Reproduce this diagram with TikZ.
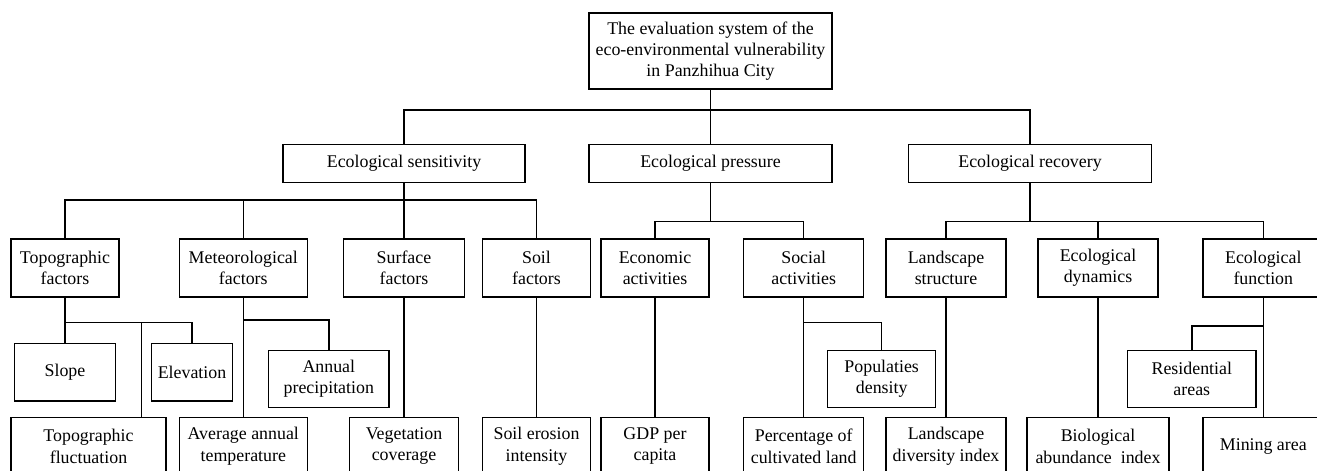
\documentclass[tikz,border=0pt]{standalone}
\usepackage{fontspec}
\setmainfont{Liberation Serif}
\newcommand{\px}{0.75pt}
\newcommand{\boxfont}{\fontsize{13.4pt}{16pt}\selectfont}

\begin{document}
\begin{tikzpicture}[x=\px, y=-\px, line width=1.1pt,
    rect/.style={draw, rectangle, anchor=center, align=center, minimum height=58*\px, inner sep=0pt, font=\boxfont}]
    \useasboundingbox (0,0) rectangle (1317,471);
    \clip (0,0) rectangle (1317,471);

    % Top
    \node[rect, minimum width=243*\px, minimum height=76*\px] (rect-0) at (710.5,51) {The evaluation system of the\\eco-environmental vulnerability\\in Panzhihua City};

    % First row
    \node[rect, minimum width=242*\px, minimum height=38.4*\px] (rect-1-1) at (404,163.5) {Ecological sensitivity};
    \node[rect, minimum width=243*\px, minimum height=38.4*\px] (rect-1-2) at (710.5,163.5) {Ecological pressure};
    \node[rect, minimum width=243*\px, minimum height=38.4*\px] (rect-1-3) at (1030,163.5) {Ecological recovery};

    % Second row
    \node[rect, minimum width=108*\px] (rect-2-1) at (65,268) {Topographic\\factors};
    \node[rect, minimum width=128*\px] (rect-2-2) at (243.3,268) {Meteorological\\factors};
    \node[rect, minimum width=121*\px] (rect-2-3) at (404,268) {Surface\\factors};
    \node[rect, minimum width=108*\px] (rect-2-4) at (536.5,268) {Soil\\factors};
    \node[rect, minimum width=108*\px] (rect-2-5) at (655,268) {Economic\\activities};
    \node[rect, minimum width=120*\px] (rect-2-6) at (803.7,268) {Social\\activities};
    \node[rect, minimum width=120*\px] (rect-2-7) at (946,268) {Landscape\\structure};
    \node[rect, minimum width=120*\px] (rect-2-8) at (1098,268) {Ecological\\dynamics};
    \node[rect, minimum width=121*\px] (rect-2-9) at (1263.3,268) {Ecological\\function};

    % Third row
    \node[rect, minimum width=101.4*\px, minimum height=57.3*\px] (rect-3-1) at (65,372.3) {Slope};
    \node[rect, minimum width=80.6*\px, minimum height=57.3*\px] (rect-3-2) at (192,372.3) {Elevation};
    \node[rect, minimum width=120.3*\px, minimum height=57.4*\px] (rect-3-3) at (328.8,379) {Annual\\precipitation};
    \node[rect, minimum width=108*\px, minimum height=57.4*\px] (rect-3-4) at (881.7,379) {Populaties\\density};
    \node[rect, minimum width=128.3*\px, minimum height=57.4*\px] (rect-3-5) at (1191.8,379) {Residential\\areas};

    % Fourth row
    \node[rect, minimum width=155*\px] (rect-4-1) at (88.5,446.3) {Topographic\\fluctuation};
    \node[rect, minimum width=128*\px] (rect-4-2) at (243.3,446.3) {Average annual\\temperature};
    \node[rect, minimum width=108.7*\px] (rect-4-3) at (404,446.3) {Vegetation\\coverage};
    \node[rect, minimum width=108*\px] (rect-4-4) at (536.5,446.3) {Soil erosion\\intensity};
    \node[rect, minimum width=108*\px] (rect-4-5) at (655,446.3) {GDP per\\capita};
    \node[rect, minimum width=120*\px] (rect-4-6) at (803.7,446.3) {Percentage of\\cultivated land};
    \node[rect, minimum width=120*\px] (rect-4-7) at (946,446.3) {Landscape\\diversity index};
    \node[rect, minimum width=142*\px] (rect-4-8) at (1098,446.3) {Biological\\abundance\ \ index};
    \node[rect, minimum width=121*\px] (rect-4-9) at (1263.3,446.3) {Mining area};

    % Junctions
    \coordinate (j-0) at (710.5,110);
    \coordinate (j-1) at (404,200);
    \coordinate (j-2) at (710.5,221.7);
    \coordinate (j-3) at (1030,221.7);
    \coordinate (j-4) at (65,322.7);
    \coordinate (j-4b) at (141.7,322.7);
    \coordinate (j-5) at (243.3,320);
    \coordinate (j-6) at (803.7,322.3);
    \coordinate (j-7) at (1263.3,326);

    % Lines
    \draw (rect-0) -- (rect-1-2);
    \draw (rect-1-1) |- (j-0) -| (rect-1-3);

    \draw (rect-1-1) -- (rect-2-3);
    \draw (rect-2-1) |- (j-1) -| (rect-2-4);
    \draw (rect-2-2) |- (j-1);
    \draw (rect-1-2) -- (j-2);
    \draw (rect-2-5) |- (j-2) -| (rect-2-6);
    \draw (rect-1-3) -- (j-3);
    \draw (rect-2-7) |- (j-3) -| (rect-2-9);
    \draw (rect-2-8) |- (j-3);

    \draw (rect-2-1) -- (rect-3-1);
    \draw (j-4) -| (rect-3-2);
    \draw (j-4) -- (j-4b) -- (j-4b |- rect-4-1.north);
    \draw (rect-2-2) -- (rect-4-2);
    \draw (j-5) -| (rect-3-3);
    \draw (rect-2-3) -- (rect-4-3);
    \draw (rect-2-4) -- (rect-4-4);
    \draw (rect-2-5) -- (rect-4-5);
    \draw (rect-2-6) -- (rect-4-6);
    \draw (j-6) -| (rect-3-4);
    \draw (rect-2-7) -- (rect-4-7);
    \draw (rect-2-8) -- (rect-4-8);
    \draw (rect-2-9) -- (rect-4-9);
    \draw (j-7) -| (rect-3-5);

\end{tikzpicture}
\end{document}
